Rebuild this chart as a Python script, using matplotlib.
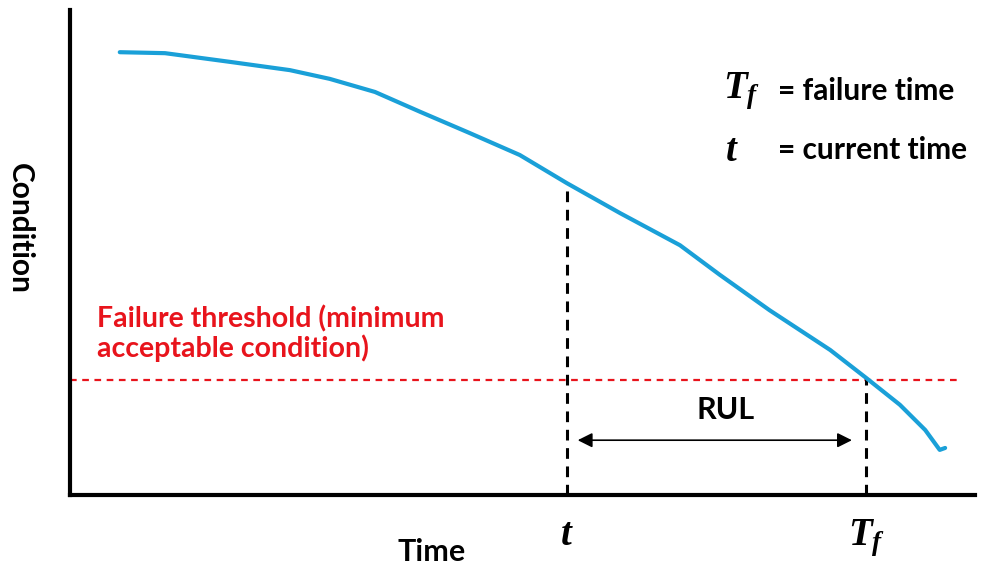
import numpy as np
import matplotlib
matplotlib.use("Agg")
import matplotlib.pyplot as plt

# ---------------- Data (time vs condition, arbitrary 0-100 units) ----------------
time = [5.5, 10.5, 17.7, 24.3, 28.7, 33.7, 38.7, 44.2, 49.7, 54.9,
        60.8, 67.4, 71.8, 77.3, 84.0, 88.0, 91.7, 94.5, 96.1, 96.7]
condition = [91.3, 91.1, 89.3, 87.6, 85.8, 83.1, 79.0, 74.6, 70.1, 64.3,
             58.1, 51.5, 45.4, 38.1, 29.9, 24.1, 18.6, 13.4, 9.3, 9.7]

threshold = 23.7
t_now = 54.9
t_fail = 88.0
t_now_cond = 64.3
t_fail_cond = 24.1

plt.rcParams["font.family"] = ["Lato", "DejaVu Sans"]
plt.rcParams["mathtext.fontset"] = "custom"
plt.rcParams["mathtext.it"] = "Liberation Serif:italic:bold"
plt.rcParams["mathtext.rm"] = "Liberation Serif:bold"

fig = plt.figure(figsize=(9.84, 5.69), dpi=100)
ax = fig.add_axes([70 / 984, 74 / 569, 905 / 984, 485 / 569])
ax.set_xlim(0, 100)
ax.set_ylim(0, 100)

for s in ["top", "right"]:
    ax.spines[s].set_visible(False)
for s in ["left", "bottom"]:
    ax.spines[s].set_linewidth(3)
    ax.spines[s].set_color("black")
ax.set_xticks([])
ax.set_yticks([])

# degradation curve
ax.plot(time, condition, color="#1AA0D8", linewidth=3, solid_capstyle="round", zorder=3)

# failure threshold
ax.plot([0, 98.3], [threshold, threshold], color="#E8141C", linestyle=(0, (3, 2.5)),
        linewidth=1.6, zorder=2)
ax.text(3, 33.2, "Failure threshold (minimum\nacceptable condition)", color="#E8141C",
        fontsize=20.5, fontweight="bold", va="center", ha="left", linespacing=1.1)

# current time and failure time markers
ax.plot([t_now, t_now], [0, t_now_cond], color="black", linestyle=(0, (3.5, 2.5)), linewidth=2.2)
ax.plot([t_fail, t_fail], [0, t_fail_cond], color="black", linestyle=(0, (3.5, 2.5)), linewidth=2.2)

# RUL arrow
ax.annotate("", xy=(56.1, 11.3), xytext=(86.4, 11.3),
            arrowprops=dict(arrowstyle="<|-|>", color="black", lw=1.2,
                            mutation_scale=22, shrinkA=0, shrinkB=0))
ax.text(72.4, 17.5, "RUL", fontsize=22, fontweight="bold", ha="center", va="center")

# time labels under axis
ax.text(t_now, -8, r"$t$", fontsize=28, ha="center", va="center", clip_on=False)
ax.text(t_fail, -9, r"$T_f$", fontsize=28, ha="center", va="center", clip_on=False)

# legend text
ax.text(72.2, 83.3, r"$T_f$", fontsize=28, ha="left", va="center")
ax.text(78.2, 83.3, "= failure time", fontsize=21.5, fontweight="bold", ha="left", va="center")
ax.text(72.4, 71.1, r"$t$", fontsize=28, ha="left", va="center")
ax.text(78.2, 71.1, "= current time", fontsize=21.5, fontweight="bold", ha="left", va="center")

# axis labels
fig.text(20 / 984, 1 - 228 / 569, "Condition", rotation=-90, fontsize=21.5,
         fontweight="bold", ha="center", va="center")
fig.text(432 / 984, 1 - 552 / 569, "Time", fontsize=22, fontweight="bold",
         ha="center", va="center")

fig.savefig("out.png", dpi=100, facecolor="white")
